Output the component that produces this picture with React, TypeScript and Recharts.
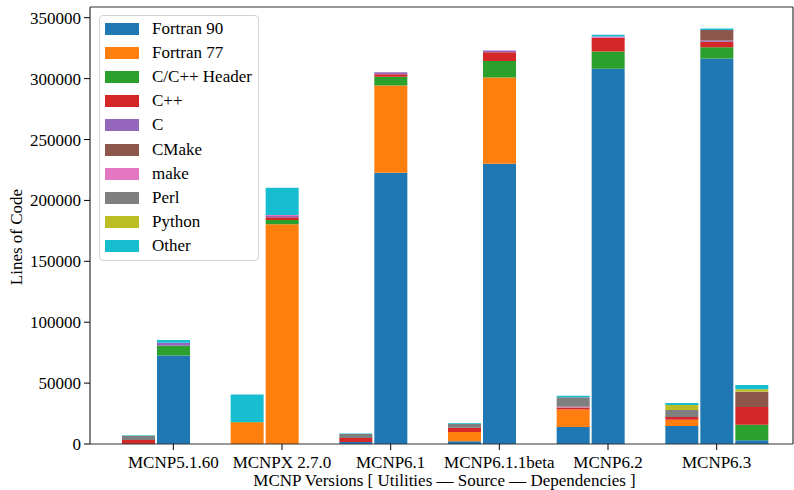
import { BarChart, Bar, XAxis, YAxis, Legend } from 'recharts'

const FONT = '"Liberation Serif", "Times New Roman", Times, serif'

const VERSIONS = ['MCNP5.1.60', 'MCNPX 2.7.0', 'MCNP6.1', 'MCNP6.1.1beta', 'MCNP6.2', 'MCNP6.3']
const LANGUAGES = ['Fortran 90', 'Fortran 77', 'C/C++ Header', 'C++', 'C', 'CMake', 'make', 'Perl', 'Python', 'Other']
const COLORS = ['#1f77b4', '#ff7f0e', '#2ca02c', '#d62728', '#9467bd', '#8c564b', '#e377c2', '#7f7f7f', '#bcbd22', '#17becf']
const Y_TICKS = [0, 50000, 100000, 150000, 200000, 250000, 300000, 350000]

// one row per language, one value per version
const UTILITIES = [
  [0, 0, 1600, 2200, 13900, 14800],
  [0, 17800, 0, 7600, 14500, 5200],
  [0, 300, 0, 0, 0, 0],
  [3200, 0, 3300, 3600, 1600, 2200],
  [0, 0, 0, 0, 0, 0],
  [0, 0, 0, 0, 0, 0],
  [0, 0, 0, 0, 500, 0],
  [3600, 0, 3300, 3300, 7900, 5700],
  [0, 0, 0, 0, 0, 4100],
  [300, 22600, 500, 500, 1300, 1600],
]

const SOURCE = [
  [72700, 0, 222800, 230200, 308100, 316500],
  [0, 180400, 71600, 70700, 0, 0],
  [7900, 3600, 7100, 13600, 14200, 9300],
  [0, 2200, 2100, 7100, 11200, 4400],
  [2500, 1000, 1600, 1400, 0, 1100],
  [0, 0, 0, 0, 0, 8700],
  [0, 900, 0, 0, 1000, 0],
  [0, 0, 0, 0, 0, 0],
  [0, 0, 0, 0, 0, 0],
  [2200, 22200, 0, 0, 1600, 1100],
]

const DEPENDENCIES = [
  [0, 0, 0, 0, 0, 3000],
  [0, 0, 0, 0, 0, 0],
  [0, 0, 0, 0, 0, 12800],
  [0, 0, 0, 0, 0, 14500],
  [0, 0, 0, 0, 0, 0],
  [0, 0, 0, 0, 0, 12300],
  [0, 0, 0, 0, 0, 400],
  [0, 0, 0, 0, 0, 0],
  [0, 0, 0, 0, 0, 1900],
  [0, 0, 0, 0, 0, 3600],
]

const GROUPS: [string, number[][]][] = [
  ['u', UTILITIES],
  ['s', SOURCE],
  ['d', DEPENDENCIES],
]

const data = VERSIONS.map((name, i) => {
  const row: Record<string, string | number> = { name }
  GROUPS.forEach(([g, table]) => {
    table.forEach((vals, j) => {
      row[`${g}${j}`] = vals[i]
    })
  })
  return row
})

function LegendBox() {
  return (
    <div
      style={{
        width: 160,
        height: 246,
        boxSizing: 'border-box',
        border: '1px solid #d3d3d3',
        borderRadius: 4,
        background: 'rgba(255,255,255,0.8)',
        fontFamily: FONT,
        fontSize: 17,
        color: '#000',
        position: 'relative',
      }}
    >
      {LANGUAGES.map((name, i) => (
        <div
          key={name}
          style={{
            position: 'absolute',
            left: 5,
            top: 1 + i * 24.1,
            height: 24,
            display: 'flex',
            alignItems: 'center',
            whiteSpace: 'nowrap',
          }}
        >
          <span style={{ width: 34, height: 12, background: COLORS[i], display: 'inline-block' }} />
          <span style={{ marginLeft: 13, lineHeight: '24px' }}>{name}</span>
        </div>
      ))}
    </div>
  )
}

function XTick({ x, y, payload }: any) {
  return (
    <text x={x} y={y + 12} textAnchor="middle" fontSize={17} fill="#000" style={{ fontFamily: FONT }}>
      {payload.value}
    </text>
  )
}

function YTick({ x, y, payload }: any) {
  return (
    <text x={x} y={y + 6} textAnchor="end" fontSize={17} fill="#000" style={{ fontFamily: FONT }}>
      {payload.value}
    </text>
  )
}

const axisLine = { stroke: '#333', strokeWidth: 1.2 }

export default function App() {
  return (
    <div style={{ width: 794, height: 490, background: '#fff', fontFamily: FONT }}>
      <style>{'body{margin:0}'}</style>
      <BarChart
        width={794}
        height={490}
        data={data}
        margin={{ top: 6, right: 0, left: 0, bottom: 0 }}
        barSize={33}
        barGap={2}
      >
        <XAxis
          dataKey="name"
          height={46}
          padding={{ left: 29, right: 22 }}
          tick={<XTick />}
          tickSize={6}
          tickMargin={6}
          tickLine={{ stroke: '#000' }}
          axisLine={axisLine}
          interval={0}
          label={{
            content: ({ viewBox }: any) => (
              <text
                x={viewBox.x + viewBox.width / 2 + 3}
                y={486}
                textAnchor="middle"
                fontSize={17}
                fill="#000"
                style={{ fontFamily: FONT }}
              >
                MCNP Versions [ Utilities — Source — Dependencies ]
              </text>
            ),
          }}
        />
        <XAxis
          xAxisId="top"
          orientation="top"
          dataKey="name"
          height={1}
          padding={{ left: 29, right: 22 }}
          tick={false}
          tickLine={false}
          axisLine={axisLine}
        />
        <YAxis
          width={90}
          domain={[0, 358800]}
          ticks={Y_TICKS}
          interval={0}
          allowDataOverflow
          tick={<YTick />}
          tickSize={6}
          tickMargin={3}
          tickLine={{ stroke: '#000' }}
          axisLine={axisLine}
          label={{
            content: () => (
              <text
                x={16}
                y={237}
                transform="rotate(-90 16 237)"
                textAnchor="middle"
                dominantBaseline="central"
                fontSize={17}
                fill="#000"
                style={{ fontFamily: FONT }}
              >
                Lines of Code
              </text>
            ),
          }}
        />
        <YAxis
          yAxisId="right"
          orientation="right"
          width={1}
          domain={[0, 358800]}
          tick={false}
          tickLine={false}
          axisLine={axisLine}
        />
        <Legend
          layout="vertical"
          align="center"
          verticalAlign="middle"
          content={() => <LegendBox />}
          wrapperStyle={{ left: 99, top: 15, width: 160, height: 246 }}
        />
        {GROUPS.map(([g]) =>
          LANGUAGES.map((lang, j) => (
            <Bar
              key={`${g}${j}`}
              dataKey={`${g}${j}`}
              name={lang}
              stackId={g}
              fill={COLORS[j]}
              isAnimationActive={false}
              legendType="none"
            />
          ))
        )}
      </BarChart>
    </div>
  )
}
